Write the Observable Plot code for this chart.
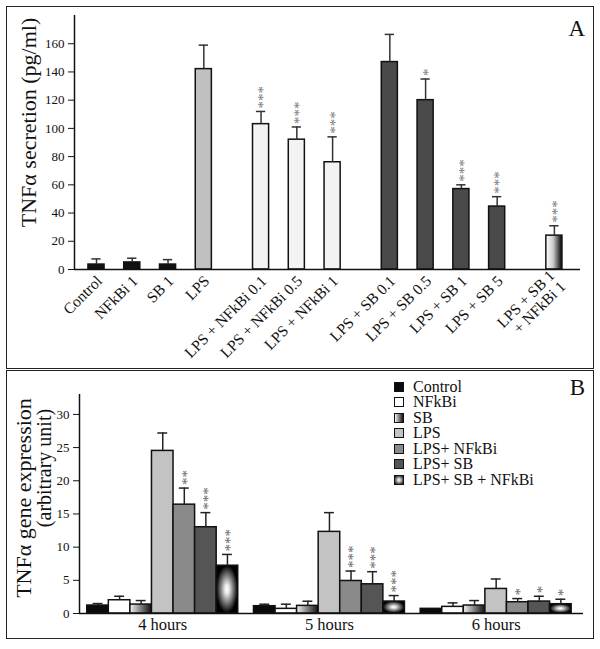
<!DOCTYPE html>
<html><head><meta charset="utf-8">
<script src="https://cdn.jsdelivr.net/npm/d3@7"></script>
<script src="https://cdn.jsdelivr.net/npm/@observablehq/plot@0.6"></script>
<style>
body{margin:0;background:#fff;font-family:"Liberation Serif",serif;color:#111;}
#page{position:relative;width:600px;height:649px;overflow:hidden;background:#fff;}
.frame{position:absolute;box-sizing:border-box;border:1.5px solid #222;pointer-events:none;}
.plot{position:absolute;left:0;}
.tag{position:absolute;font-size:23px;line-height:1;}
#legend{position:absolute;left:394px;top:379px;font-size:16px;}
#legend .row{display:flex;align-items:center;height:15.5px;white-space:nowrap;}
#legend .sw{width:10px;height:10px;border:1px solid #111;margin-right:9px;box-sizing:border-box;}
</style></head><body>
<svg width="0" height="0" style="position:absolute">
<defs>
<linearGradient id="gA" x1="0" x2="1" y1="0" y2="0"><stop offset="0" stop-color="#fff"/><stop offset="0.45" stop-color="#ccc"/><stop offset="1" stop-color="#000"/></linearGradient>
<linearGradient id="gSB" x1="0" x2="1" y1="0" y2="0"><stop offset="0" stop-color="#f2f2f2"/><stop offset="1" stop-color="#111"/></linearGradient>
<radialGradient id="gR" cx="0.5" cy="0.5" r="0.5"><stop offset="0" stop-color="#fff"/><stop offset="0.2" stop-color="#e8e8e8"/><stop offset="1" stop-color="#000"/></radialGradient>
</defs></svg>
<div id="page">
  <div class="plot" id="plotA" style="top:0"></div>
  <div class="plot" id="plotB" style="top:370px"></div>
  <div class="frame" style="left:6px;top:6px;width:588px;height:363px"></div>
  <div class="frame" style="left:6px;top:370px;width:588px;height:269px"></div>
  <div class="tag" style="right:15px;top:17px">A</div>
  <div class="tag" style="right:15px;top:376px">B</div>
  <div id="legend"></div>
</div>
<script>
// ---------- Panel A data ----------
const labelsA = ["Control","NFkBi 1","SB 1","LPS","LPS + NFkBi 0.1","LPS + NFkBi 0.5","LPS + NFkBi 1","LPS + SB 0.1","LPS + SB 0.5","LPS + SB 1","LPS + SB 5","LPS + SB 1\n+ NFkBi 1"];
const groupA = [0,0,0,0,1,1,1,2,2,2,2,3];
const kindA = ["basal","basal","basal","LPS","LPS+NFkBi","LPS+NFkBi","LPS+NFkBi","LPS+SB","LPS+SB","LPS+SB","LPS+SB","LPS+SB+NFkBi"];
const valuesA = [3.5,5,3.5,142,103,92,76,147,120,57,44.6,24];
const errorsA = [4,3,3.5,17,9,9,18,19.6,15,3,7,7];
const starsA = ["","","","","***","***","***","","*","***","***","***"];
const ticksA = [0,20,40,60,80,100,120,140,160];
const kindsA = ["basal","LPS","LPS+NFkBi","LPS+SB","LPS+SB+NFkBi"];
const fillsA = ["#111","#c0c0c0","#f3f3f3","#4a4a4a","url(#gA)"];

// ---------- Panel B data ----------
const timesB = ["4 hours","5 hours","6 hours"];
const treatmentsB = ["Control","NFkBi","SB","LPS","LPS+ NFkBi","LPS+ SB","LPS+ SB + NFkBi"];
const valuesB = [[1.2,2.0,1.35,24.5,16.4,13.0,7.2],[1.1,0.7,1.15,12.3,4.9,4.4,1.8],[0.7,1.0,1.2,3.7,1.7,1.8,1.4]];
const errorsB = [[0.3,0.6,0.6,2.7,2.5,2.2,1.7],[0.3,0.7,0.7,2.9,1.5,1.9,0.9],[0,0.6,0.75,1.5,0.55,0.8,0.75]];
const starsB = [["","","","","**","***","***"],["","","","","***","***","***"],["","","","","*","*","*"]];
const ticksB = [0,5,10,15,20,25,30];
const fillsB = ["#0a0a0a","#fff","url(#gSB)","#c3c3c3","#8a8a8a","#555","url(#gR)"];
const legendFillsB = ["#0a0a0a","#fff","linear-gradient(to right,#f2f2f2,#111)","#c3c3c3","#8a8a8a","#555","radial-gradient(ellipse,#fff 0%,#ddd 20%,#000 100%)"];

const font = '"Liberation Serif", serif';

// ---------- Panel A ----------
const gapA = 0.6;
const dataA = labelsA.map((label,i)=>({label, pos: i + groupA[i]*gapA, kind: kindA[i], value: valuesA[i], err: errorsA[i], stars: starsA[i]}));
const labelAt = new Map(dataA.map(d=>[d.pos,d.label]));
const xMinA = -0.615, xMaxA = d3.max(dataA,d=>d.pos)+0.73;
const plotA = Plot.plot({
  width:600, height:370, marginLeft:74, marginRight:20, marginTop:15, marginBottom:101,
  style:{fontFamily:font, color:"#111", background:"transparent", overflow:"visible"},
  x:{domain:[xMinA,xMaxA], axis:null},
  y:{domain:[0,180], axis:null},
  color:{domain:kindsA, range:fillsA},
  marks:[
    Plot.axisY({ticks:ticksA, tickSize:6, tickPadding:4, fontSize:13, label:null}),
    Plot.axisX({ticks:dataA.map(d=>d.pos), tickFormat:p=>labelAt.get(p), tickRotate:-45, tickSize:0, tickPadding:9, dx:3, fontSize:15.5, label:null}),
    Plot.rectY(dataA,{x1:d=>d.pos-0.225, x2:d=>d.pos+0.225, y1:d=>0, y2:"value", fill:"kind", stroke:"#111", strokeWidth:1.5}),
    Plot.ruleX(dataA,{x:"pos", y1:"value", y2:d=>d.value+d.err, stroke:"#333", strokeWidth:1.5}),
    Plot.ruleY(dataA,{y:d=>d.value+d.err, x1:d=>d.pos-0.13, x2:d=>d.pos+0.13, stroke:"#333", strokeWidth:1.5}),
    Plot.text(dataA,{x:"pos", y:d=>d.value+d.err, text:"stars", rotate:-90, textAnchor:"start", dy:-3, dx:2.5, fontSize:15, fill:"#777"}),
    Plot.ruleX([xMinA],{stroke:"#111", strokeWidth:1.5}),
    Plot.ruleY([0],{stroke:"#111", strokeWidth:1.5}),
    Plot.text(["TNFα secretion (pg/ml)"],{text:d=>d, frameAnchor:"left", textAnchor:"middle", rotate:-90, dx:-46, dy:-20, fontSize:22})
  ]
});
document.getElementById("plotA").append(plotA);

// ---------- Panel B ----------
const gapB = 0.73;
const dataB = [];
timesB.forEach((t,g)=>treatmentsB.forEach((tr,k)=>dataB.push({time:t, treat:tr, pos: g*(treatmentsB.length+gapB)+k, value: valuesB[g][k], err: errorsB[g][k], stars: starsB[g][k]})));
const timeCenter = new Map(timesB.map((t,g)=>[g*(treatmentsB.length+gapB)+treatmentsB.length/2, t]));
const xMinB = -0.36, xMaxB = 2*(treatmentsB.length+gapB)+treatmentsB.length+0.55;
const plotB = Plot.plot({
  width:600, height:279, marginLeft:79, marginRight:17, marginTop:24, marginBottom:36,
  style:{fontFamily:font, color:"#111", background:"transparent", overflow:"visible"},
  x:{domain:[xMinB,xMaxB], axis:null},
  y:{domain:[0,33], axis:null},
  color:{domain:treatmentsB, range:fillsB},
  marks:[
    Plot.axisY({ticks:ticksB, tickSize:6, tickPadding:4, fontSize:13, label:null}),
    Plot.axisX({ticks:[...timeCenter.keys()], tickFormat:p=>timeCenter.get(p), tickSize:0, tickPadding:5, fontSize:16.5, label:null}),
    Plot.rectY(dataB,{x1:"pos", x2:d=>d.pos+1, y1:d=>0, y2:"value", fill:"treat", stroke:"#111", strokeWidth:1.5}),
    Plot.ruleX(dataB.filter(d=>d.err>0),{x:d=>d.pos+0.5, y1:"value", y2:d=>d.value+d.err, stroke:"#222", strokeWidth:1.5}),
    Plot.ruleY(dataB.filter(d=>d.err>0),{y:d=>d.value+d.err, x1:d=>d.pos+0.27, x2:d=>d.pos+0.73, stroke:"#222", strokeWidth:1.5}),
    Plot.text(dataB,{x:d=>d.pos+0.5, y:d=>d.value+d.err, text:"stars", rotate:-90, textAnchor:"start", dy:-3, dx:2.5, fontSize:15, fill:"#666"}),
    Plot.ruleX([xMinB],{stroke:"#111", strokeWidth:1.5}),
    Plot.ruleY([0],{stroke:"#111", strokeWidth:1.5}),
    Plot.text(["TNFα gene expression"],{text:d=>d, frameAnchor:"left", textAnchor:"middle", rotate:-90, dx:-56, dy:-6, fontSize:22}),
    Plot.text(["(arbitrary unit)"],{text:d=>d, frameAnchor:"left", textAnchor:"middle", rotate:-90, dx:-35, dy:-36, fontSize:20})
  ]
});
document.getElementById("plotB").append(plotB);

// legend (HTML)
const leg = document.getElementById("legend");
treatmentsB.forEach((t,i)=>{
  const row = document.createElement("div"); row.className="row";
  const sw = document.createElement("div"); sw.className="sw"; sw.style.background = legendFillsB[i];
  const tx = document.createElement("span"); tx.textContent = t;
  row.append(sw,tx); leg.append(row);
});
</script>
</body></html>
